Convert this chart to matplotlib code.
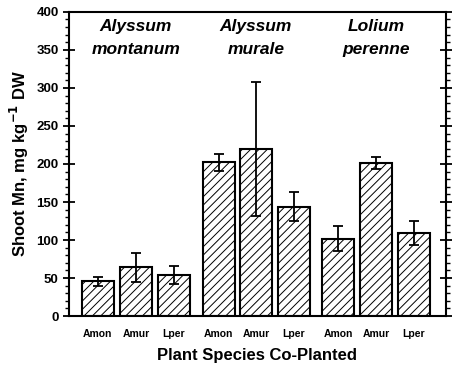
import numpy as np
import matplotlib.pyplot as plt
from matplotlib.ticker import MultipleLocator

plt.rcParams['font.family'] = ['Liberation Sans', 'DejaVu Sans']
plt.rcParams['hatch.linewidth'] = 0.7
plt.rcParams['hatch.color'] = '#333333'

species = ["Alyssum\nmontanum", "Alyssum\nmurale", "Lolium\nperenne"]
coplanted = ["Amon", "Amur", "Lper"] * 3
values = [46, 64, 54, 202, 220, 144, 102, 201, 109]
errors = [6, 19, 12, 11, 88, 19, 17, 8, 16]

pos = np.array([0, 1, 2, 3.18, 4.16, 5.16, 6.32, 7.32, 8.32])

fig = plt.figure(figsize=(4.54, 3.71), dpi=100)
ax = fig.add_axes([0.152, 0.148, 0.83, 0.82])

ax.bar(pos, values, width=0.84, color='white', edgecolor='black',
       linewidth=1.5, hatch='////', zorder=2)
ax.errorbar(pos, values, yerr=errors, fmt='none', ecolor='black',
            elinewidth=1.3, capsize=3.5, capthick=1.3, zorder=3)

for i, name in enumerate(species):
    ax.text(pos[3 * i + 1], 390, name, ha='center', va='top',
            fontsize=12.5, fontweight='bold', style='italic', linespacing=1.6)

ax.set_xlim(-0.76, 9.16)
ax.set_ylim(0, 400)
ax.set_xticks(pos)
ax.set_xticklabels(coplanted, fontsize=7.5, fontweight='bold')
ax.tick_params(axis='x', length=0, pad=9)

ax.yaxis.set_major_locator(MultipleLocator(50))
ax.yaxis.set_minor_locator(MultipleLocator(10))
ax.tick_params(axis='y', which='major', direction='inout', length=8, width=1.3,
               right=True, labelsize=9.5)
ax.tick_params(axis='y', which='minor', direction='out', length=3, width=1.0,
               right=True)
for lab in ax.get_yticklabels():
    lab.set_fontweight('bold')

for s in ax.spines.values():
    s.set_linewidth(1.5)

ax.set_ylabel("Shoot Mn, mg kg$^{\\mathbf{-1}}$ DW", fontsize=12, fontweight='bold')
ax.set_xlabel("Plant Species Co-Planted", fontsize=12, fontweight='bold', labelpad=7)

fig.savefig("out.png", dpi=100)
